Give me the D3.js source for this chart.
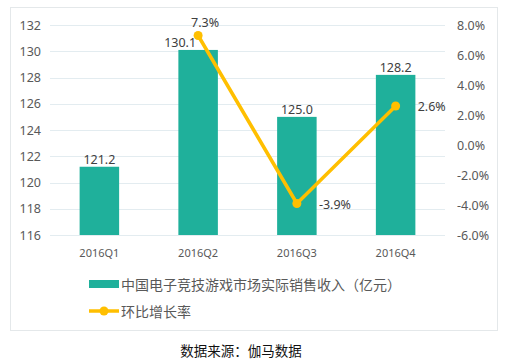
<!DOCTYPE html>
<html>
<head>
<meta charset="utf-8">
<script src="https://cdn.jsdelivr.net/npm/d3@7"></script>
<style>
  body { margin: 0; background: #fff; }
  text { font-family: "Noto Sans", "Noto Sans CJK SC", sans-serif; }
</style>
</head>
<body>
<div id="chart-area"></div>
<script>
// data
let quarters = ["2016Q1", "2016Q2", "2016Q3", "2016Q4"];
let revenue = [121.2, 130.1, 125.0, 128.2];
let growth = [null, 7.3, -3.9, 2.6];
let leftTicks = [116, 118, 120, 122, 124, 126, 128, 130, 132];
let rightTicks = [-6, -4, -2, 0, 2, 4, 6, 8];
let barName = "中国电子竞技游戏市场实际销售收入（亿元）";
let lineName = "环比增长率";
let sourceText = "数据来源：伽马数据";

let barColor = "#1fb09b",
	lineColor = "#ffbf00",
	labelColor = "#404040",
	tickColor = "#595959";

let W = 505, H = 363;
let margin = {top: 25, left: 50, right: 60, bottom: 128};
let width = 445 - margin.left;
let height = 235 - margin.top;

let svg = d3.select("#chart-area").append("svg")
	.attr("width", W)
	.attr("height", H);

// frame
svg.append("rect")
	.attr("x", 10.5).attr("y", 7.5)
	.attr("width", 487).attr("height", 323)
	.attr("fill", "none")
	.attr("stroke", "#e4e8ea");

let g = svg.append("g")
	.attr("transform", "translate(" + margin.left + "," + margin.top + ")");

// scales
let x = d3.scaleBand()
	.domain(quarters)
	.range([0, width])
	.paddingInner(0.6)
	.paddingOuter(0.3);

let y = d3.scaleLinear()
	.domain([116, 132])
	.range([height, 0]);

let y2 = d3.scaleLinear()
	.domain([-6, 8])
	.range([height, 0]);

// gridlines
g.selectAll(".grid")
	.data(leftTicks)
	.enter().append("line")
	.attr("class", "grid")
	.attr("x1", 0).attr("x2", width)
	.attr("y1", d => Math.round(y(d)) + 0.5)
	.attr("y2", d => Math.round(y(d)) + 0.5)
	.attr("stroke", "#e3ecf0");

// axes
let yAxis = d3.axisLeft(y).tickValues(leftTicks).tickSize(0).tickPadding(9);
g.append("g").attr("class", "y-axis").call(yAxis);

let yAxis2 = d3.axisRight(y2).tickValues(rightTicks).tickSize(0).tickPadding(12)
	.tickFormat(d => d.toFixed(1) + "%");
g.append("g").attr("class", "y-axis2")
	.attr("transform", "translate(" + width + ",0)")
	.call(yAxis2);

let xAxis = d3.axisBottom(x).tickSize(0).tickPadding(14);
g.append("g").attr("class", "x-axis")
	.attr("transform", "translate(0," + height + ")")
	.call(xAxis);

g.selectAll(".domain").remove();
g.selectAll(".y-axis text, .y-axis2 text")
	.attr("fill", tickColor).style("font-size", "12.5px");
g.selectAll(".x-axis text")
	.attr("fill", tickColor).style("font-size", "11px");

// bars
g.selectAll(".bar")
	.data(revenue)
	.enter().append("rect")
	.attr("class", "bar")
	.attr("x", (d, i) => x(quarters[i]))
	.attr("width", x.bandwidth())
	.attr("y", d => y(d))
	.attr("height", d => height - y(d))
	.attr("fill", barColor);

// bar labels (Q2 shifted left to clear the line)
let barShift = [0, -18, 0, 0];
g.selectAll(".bar-label")
	.data(revenue)
	.enter().append("text")
	.attr("class", "bar-label")
	.attr("x", (d, i) => x(quarters[i]) + x.bandwidth() / 2 + barShift[i])
	.attr("y", d => y(d) - 3)
	.attr("text-anchor", "middle")
	.attr("fill", labelColor)
	.style("font-size", "12.5px")
	.text(d => d.toFixed(1));

// line
let pts = growth.map((d, i) => ({q: quarters[i], v: d, i: i})).filter(d => d.v !== null);
let cx = d => x(d.q) + x.bandwidth() / 2;

g.append("path")
	.datum(pts)
	.attr("fill", "none")
	.attr("stroke", lineColor)
	.attr("stroke-width", 3.5)
	.attr("stroke-linejoin", "round")
	.attr("d", d3.line().x(cx).y(d => y2(d.v)));

g.selectAll(".dot")
	.data(pts)
	.enter().append("circle")
	.attr("class", "dot")
	.attr("cx", cx)
	.attr("cy", d => y2(d.v))
	.attr("r", 4.5)
	.attr("fill", lineColor);

// growth labels: Q2 above the point, Q3/Q4 to the right
let lblDx = [0, 7, 22, 22];
let lblDy = [0, -9, 5, 5];
let lblAnchor = ["middle", "middle", "start", "start"];
g.selectAll(".pct-label")
	.data(pts)
	.enter().append("text")
	.attr("class", "pct-label")
	.attr("x", d => cx(d) + lblDx[d.i])
	.attr("y", d => y2(d.v) + lblDy[d.i])
	.attr("text-anchor", d => lblAnchor[d.i])
	.attr("fill", labelColor)
	.style("font-size", "12.5px")
	.text(d => d.v.toFixed(1) + "%");

// legend
let legend = svg.append("g");
legend.append("rect")
	.attr("x", 89).attr("y", 280)
	.attr("width", 30).attr("height", 8)
	.attr("fill", barColor);
legend.append("text")
	.attr("x", 121).attr("y", 284)
	.attr("dominant-baseline", "central")
	.attr("fill", tickColor)
	.style("font-family", "'Noto Sans CJK SC'")
	.style("font-size", "14px")
	.text(barName);

legend.append("line")
	.attr("x1", 89).attr("x2", 119)
	.attr("y1", 311).attr("y2", 311)
	.attr("stroke", lineColor)
	.attr("stroke-width", 3.5);
legend.append("circle")
	.attr("cx", 104).attr("cy", 311)
	.attr("r", 4.5)
	.attr("fill", lineColor);
legend.append("text")
	.attr("x", 121).attr("y", 311)
	.attr("dominant-baseline", "central")
	.attr("fill", tickColor)
	.style("font-family", "'Noto Sans CJK SC'")
	.style("font-size", "14px")
	.text(lineName);

// source
svg.append("text")
	.attr("x", 241).attr("y", 350)
	.attr("text-anchor", "middle")
	.attr("dominant-baseline", "central")
	.attr("fill", "#111")
	.style("font-family", "'Noto Sans CJK SC'")
	.style("font-size", "13.5px")
	.text(sourceText);
</script>
</body>
</html>
